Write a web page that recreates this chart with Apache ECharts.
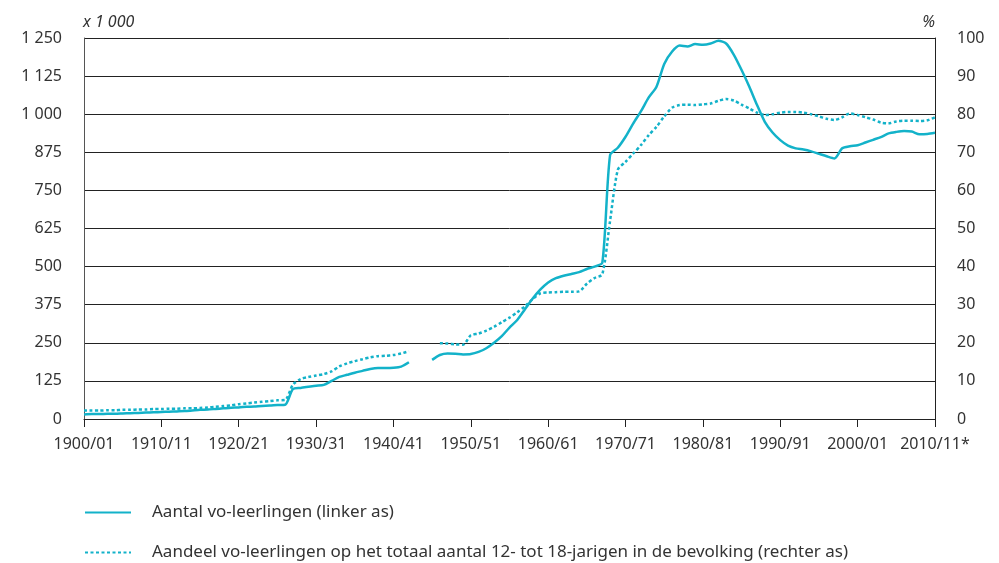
<!DOCTYPE html>
<html>
<head>
<meta charset="utf-8">
<script src="https://cdn.jsdelivr.net/npm/echarts@6/dist/echarts.min.js"></script>
<style>
  html, body { margin: 0; padding: 0; background: #fff; }
  #chart { width: 999px; height: 563px; }
</style>
</head>
<body>
<div id="chart"></div>
<script>
// schooljaren 1900/01 .. 2010/11
var years = [];
for (var y = 1900; y <= 2010; y++) {
    years.push(y + '/' + String((y + 1) % 100).padStart(2, '0'));
}
var tickLabels = ['1900/01', '1910/11', '1920/21', '1930/31', '1940/41', '1950/51',
    '1960/61', '1970/71', '1980/81', '1990/91', '2000/01', '2010/11*'];

// aantal vo-leerlingen, x 1 000 (linker as)
var aantal = [
    15, 16, 16, 17, 17, 18, 19, 20, 21, 22,
    23, 24, 25, 26, 28, 30, 31, 33, 35, 37,
    38, 40, 41, 43, 44, 46, 47, 98, 102, 106,
    109, 112, 125, 138, 145, 152, 158, 164, 167, 167,
    168, 172, 186, null, null, 194, 210, 215, 214, 212,
    213, 220, 232, 250, 272, 300, 325, 360, 395, 425,
    448, 462, 470, 476, 482, 492, 500, 513, 866, 890,
    926, 970, 1010, 1055, 1090, 1165, 1205, 1225, 1222, 1230,
    1228, 1232, 1241, 1232, 1195, 1145, 1090, 1030, 975, 940,
    915, 897, 888, 884, 878, 870, 862, 855, 888, 895,
    898, 907, 916, 925, 937, 942, 945, 943, 934, 935,
    939
];

// aandeel op totaal 12- tot 18-jarigen, % (rechter as)
var aandeel = [
    2.2, 2.2, 2.2, 2.3, 2.3, 2.4, 2.4, 2.5, 2.5, 2.6,
    2.6, 2.7, 2.7, 2.8, 2.8, 2.9, 3.0, 3.2, 3.4, 3.6,
    3.9, 4.1, 4.3, 4.5, 4.7, 4.9, 5.0, 9.0, 10.5, 11.0,
    11.4, 11.8, 12.5, 13.8, 14.6, 15.2, 15.7, 16.2, 16.5, 16.6,
    16.8, 17.2, 17.8, null, null, null, 19.9, 19.8, 19.6, 19.5,
    22.0, 22.4, 23.2, 24.2, 25.4, 26.6, 28.0, 29.6, 31.5, 33.0,
    33.2, 33.3, 33.4, 33.4, 33.5, 35.5, 37.0, 38.0, 52.0, 65.4,
    67.5, 69.7, 71.9, 74.5, 76.7, 79.4, 81.7, 82.4, 82.5, 82.4,
    82.6, 82.8, 83.5, 84.0, 83.6, 82.5, 81.5, 80.4, 79.8, 80.0,
    80.4, 80.6, 80.6, 80.4, 80.0, 79.4, 78.8, 78.5, 79.2, 80.2,
    79.8, 79.2, 78.6, 77.8, 77.6, 78.1, 78.3, 78.3, 78.2, 78.4,
    79.2
];

var lineColor = '#13b2c9';
var textColor = '#333';
var font = 'Noto Sans';

function spaced(v) {
    return String(v).replace(/\B(?=(\d{3})+(?!\d))/g, ' ');
}

var chart = echarts.init(document.getElementById('chart'));
chart.setOption({
    animation: false,
    textStyle: { fontFamily: font },
    grid: { left: 84, right: 64, top: 38, bottom: 144, containLabel: false },
    legend: {
        orient: 'vertical',
        left: 84,
        top: 504,
        height: 58,
        padding: 0,
        itemWidth: 46,
        itemHeight: 14,
        itemGap: 23,
        itemStyle: { opacity: 0 },
        textStyle: { fontSize: 17, lineHeight: 16, color: textColor, fontFamily: font, padding: [0, 0, 0, 16] },
        data: ['Aantal vo-leerlingen (linker as)',
            'Aandeel vo-leerlingen op het totaal aantal 12- tot 18-jarigen in de bevolking (rechter as)']
    },
    xAxis: {
        type: 'category',
        data: years,
        boundaryGap: false,
        axisLine: { lineStyle: { color: '#222', width: 1 } },
        axisTick: {
            length: 8,
            lineStyle: { color: '#222' },
            interval: function (i) { return i % 10 === 0; }
        },
        axisLabel: {
            color: textColor,
            fontSize: 16,
            margin: 17,
            interval: function (i) { return i % 10 === 0; },
            formatter: function (v, i) { return tickLabels[i / 10]; }
        },
        splitLine: { show: false }
    },
    yAxis: [{
        type: 'value',
        min: 0,
        max: 1250,
        interval: 125,
        name: 'x 1 000',
        nameLocation: 'end',
        nameGap: 8,
        nameTextStyle: { fontStyle: 'italic', fontSize: 16, color: textColor, align: 'left', padding: [0, 0, 0, -1] },
        axisLine: { show: true, lineStyle: { color: '#555', width: 1 } },
        axisTick: { show: false },
        axisLabel: { color: textColor, fontSize: 16, margin: 22, formatter: spaced },
        splitLine: { show: true, lineStyle: { color: '#222', width: 1 } }
    }, {
        type: 'value',
        min: 0,
        max: 100,
        interval: 10,
        name: '%',
        nameLocation: 'end',
        nameGap: 8,
        nameTextStyle: { fontStyle: 'italic', fontSize: 16, color: textColor, align: 'right', padding: [0, 0, 0, 0] },
        axisLine: { show: true, lineStyle: { color: '#222', width: 1 } },
        axisTick: { show: false },
        axisLabel: { color: textColor, fontSize: 16, margin: 22 },
        splitLine: { show: false }
    }],
    series: [{
        name: 'Aantal vo-leerlingen (linker as)',
        type: 'line',
        yAxisIndex: 0,
        data: aantal,
        symbol: 'none',
        smooth: 0.25,
        connectNulls: false,
        lineStyle: { color: lineColor, width: 2.5 },
        itemStyle: { color: lineColor }
    }, {
        name: 'Aandeel vo-leerlingen op het totaal aantal 12- tot 18-jarigen in de bevolking (rechter as)',
        type: 'line',
        yAxisIndex: 1,
        data: aandeel,
        symbol: 'none',
        smooth: 0.25,
        connectNulls: false,
        lineStyle: { color: lineColor, width: 2.5, type: [3, 2.5] },
        itemStyle: { color: lineColor }
    }]
});
</script>
</body>
</html>
